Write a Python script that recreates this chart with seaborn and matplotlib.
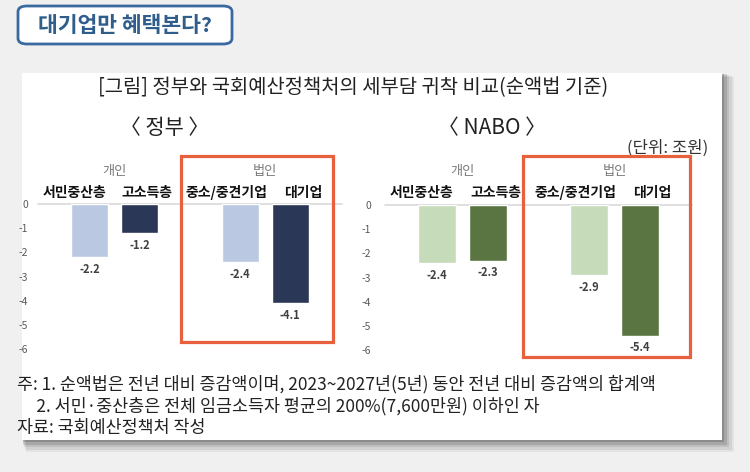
import matplotlib
matplotlib.use("Agg")
import matplotlib.pyplot as plt
from matplotlib.patches import Rectangle, FancyBboxPatch
import seaborn as sns
import pandas as pd

# ---------------- data ----------------
categories = ['서민중산층', '고소득층', '중소/중견기업', '대기업']
gov_values = [-2.2, -1.2, -2.4, -4.1]
nabo_values = [-2.4, -2.3, -2.9, -5.4]
group_names = ['개인', '법인']
y_ticks = [0, -1, -2, -3, -4, -5, -6]

badge_text = '대기업만 혜택본다?'
fig_title = '[그림] 정부와 국회예산정책처의 세부담 귀착 비교(순액법 기준)'
panel_titles = ['〈 정부 〉', '〈 NABO 〉']
unit_text = '(단위: 조원)'
notes = ['주: 1. 순액법은 전년 대비 증감액이며, 2023~2027년(5년) 동안 전년 대비 증감액의 합계액',
         '     2. 서민·중산층은 전체 임금소득자 평균의 200%(7,600만원) 이하인 자',
         '자료: 국회예산정책처 작성']

# ---------------- style ----------------
sns.set_theme(style='white')
plt.rcParams['font.family'] = ['Noto Sans CJK KR', 'DejaVu Sans']

W, H = 750, 472
fig = plt.figure(figsize=(W / 100, H / 100), dpi=100)
fig.patch.set_facecolor('#f0f0f0')


def fx(x):
    return x / W


def fy(y):
    return 1 - y / H


def frect(x0, y0, x1, y1, **kw):
    r = Rectangle((fx(x0), fy(y1)), fx(x1) - fx(x0), fy(y0) - fy(y1),
                  transform=fig.transFigure, **kw)
    fig.add_artist(r)
    return r


# card shadow + card
for i, a in enumerate([0.05, 0.07, 0.09, 0.12, 0.16]):
    d = 12 - i * 2.4
    frect(22 + d * 0.3, 73 + d * 0.3, 722 + d, 440 + d, facecolor='black',
          alpha=a, edgecolor='none', zorder=-3)
frect(22, 73, 722, 440, facecolor='white', edgecolor='none', zorder=-2)

# badge
badge = FancyBboxPatch((fx(18), fy(44)), fx(232) - fx(18), fy(6) - fy(44),
                       boxstyle='round,pad=0,rounding_size=0.012',
                       transform=fig.transFigure, facecolor='white',
                       edgecolor='#3a69a0', linewidth=2, zorder=2)
fig.add_artist(badge)
fig.text(fx(125), fy(25.5), badge_text, ha='center', va='center', fontsize=15.5,
         fontweight='heavy', color='#2f5d8c', zorder=3)

# headings
fig.text(fx(353), fy(88), fig_title, ha='center', va='center', fontsize=14.3,
         color='#222222')
fig.text(fx(165), fy(128), panel_titles[0], ha='center', va='center',
         fontsize=15, color='#222222')
fig.text(fx(492), fy(128), panel_titles[1], ha='center', va='center',
         fontsize=15, color='#222222')
fig.text(fx(708), fy(148), unit_text, ha='right', va='center', fontsize=12,
         color='#333333')

# footnotes
for i, line in enumerate(notes):
    fig.text(fx(17), fy(384 + 22 * i), line, ha='left', va='center',
             fontsize=12.5, color='#222222')

slot_order = [categories[0], categories[1], ' ', categories[2], categories[3]]
label_offsets = [-0.3, 0.15, -0.27, 0.25]
slots = [0, 1, 3, 4]

panels = [
    dict(values=gov_values, colors=['#b4c7e7', '#22345f', '#b4c7e7', '#22345f'],
         left=38, right=342, zero=204, pad=7,
         box=(181, 156, 333, 342)),
    dict(values=nabo_values, colors=['#c5e0b4', '#5a7d3a', '#c5e0b4', '#5a7d3a'],
         left=385, right=692, zero=205, pad=10,
         box=(523, 156, 690, 357)),
]

ppu = 24.17  # pixels per unit
ymin, ymax = -6.25, 0.0
for p in panels:
    top = p['zero'] - ymax * ppu
    bottom = p['zero'] - ymin * ppu
    ax = fig.add_axes([fx(p['left']), fy(bottom), fx(p['right']) - fx(p['left']),
                       fy(top) - fy(bottom)])
    ax.set_facecolor('none')
    df = pd.DataFrame({'cat': categories, 'value': p['values']})
    sns.barplot(data=df, x='cat', y='value', hue='cat', order=slot_order,
                hue_order=categories, palette=dict(zip(categories, p['colors'])),
                width=0.74, legend=False, ax=ax, zorder=2)
    ax.set_xlim(-1.03, 5.03)
    ax.set_ylim(ymin, ymax)
    ax.axhline(0, color='#d9d9d9', lw=1.2, zorder=1, clip_on=False)
    for s in ax.spines.values():
        s.set_visible(False)
    ax.set_xticks([])
    ax.set_xlabel('')
    ax.set_ylabel('')
    ax.set_yticks(y_ticks)
    ax.set_yticklabels([str(t) for t in y_ticks])
    ax.tick_params(axis='y', length=0, pad=p['pad'], labelsize=7.5,
                   labelcolor='#595959')
    for s, v, off, c in zip(slots, p['values'], label_offsets, categories):
        ax.text(s, v - 0.5, f'{v:.1f}', ha='center', va='center', fontsize=8,
                fontweight='bold', color='#404040', clip_on=False)
        ax.annotate(c, xy=(s + off, H - 193), xycoords=('data', 'figure pixels'),
                    ha='center', va='center', fontsize=10, fontweight='bold',
                    color='#111111', annotation_clip=False)
    for gx, g in zip([0.5, 3.5], group_names):
        ax.annotate(g, xy=(gx, H - 172), xycoords=('data', 'figure pixels'),
                    ha='center', va='center', fontsize=9.5, color='#7a7a7a',
                    annotation_clip=False)
    x0, y0, x1, y1 = p['box']
    frect(x0, y0, x1, y1, facecolor='none', edgecolor='#e8603c', lw=2.3, zorder=5)

fig.savefig('out.png', dpi=100, facecolor=fig.get_facecolor())
